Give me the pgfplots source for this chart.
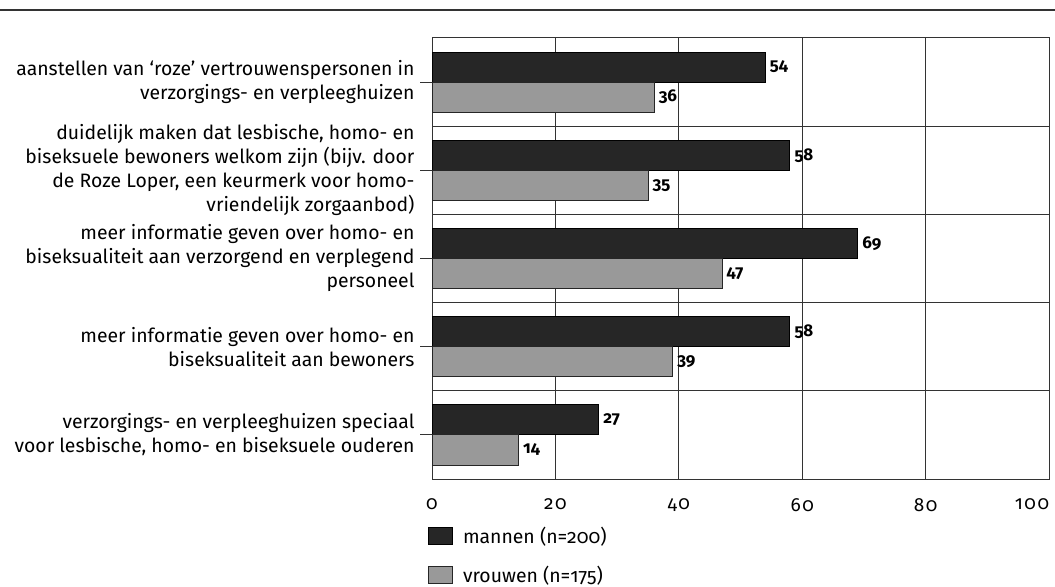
\documentclass[border=0pt]{standalone}
\usepackage{pgfplots}
\pgfplotsset{compat=1.18}
\usepackage{fontspec}
\setmainfont{Fira Sans}[Numbers=OldStyle]
\newfontfamily\tickfont{Fira Sans}[Numbers=OldStyle, LetterSpace=8]
\definecolor{darkbar}{HTML}{262626}
\definecolor{graybar}{HTML}{999999}
\definecolor{gridc}{HTML}{333333}
\begin{document}
\begin{tikzpicture}[x=1bp,y=1bp,font=\fontsize{19.4bp}{24bp}\selectfont]
\useasboundingbox (0,0) rectangle (1055,587);
\draw[line width=1.2bp, gridc] (0,577) -- (1055,577);
\begin{axis}[
  at={(432bp,108bp)}, anchor=south west,
  scale only axis, width=617bp, height=441bp,
  xbar, bar width=30bp,
  xmin=0, xmax=100, ymin=-0.5, ymax=4.5, y dir=reverse,
  xtick={0,20,...,100}, ytick={0,...,4},
  xticklabels={0,20,40,60,80,\llap{100}},
  minor ytick={0.5,1.5,2.5,3.5},
  xmajorgrids, yminorgrids,
  major grid style={gridc, line width=0.9bp},
  minor grid style={gridc, line width=0.9bp},
  axis line style={gridc, line width=1bp},
  xtick style={draw=none},
  minor tick length=0pt,
  ytick pos=left, tick align=outside, major tick length=12bp,
  ytick style={gridc, line width=0.9bp},
  /pgf/number format/assume math mode=true,
  xticklabel style={font=\fontsize{19bp}{24bp}\tickfont, yshift=-4bp},
  yticklabels={
    {aanstellen van ‘roze’ vertrouwenspersonen in\\verzorgings- en verpleeghuizen},
    {duidelijk maken dat lesbische, homo- en\\biseksuele bewoners welkom zijn (bijv. door\\de Roze Loper, een keurmerk voor homo-\\vriendelijk zorgaanbod)},
    {meer informatie geven over homo- en\\biseksualiteit aan verzorgend en verplegend\\personeel},
    {meer informatie geven over homo- en\\biseksualiteit aan bewoners},
    {verzorgings- en verpleeghuizen speciaal\\voor lesbische, homo- en biseksuele ouderen}
  },
  yticklabel style={align=right, font=\fontsize{19.4bp}{24bp}\selectfont, xshift=-2bp},
  nodes near coords,
  every node near coord/.append style={font=\fontsize{17bp}{20bp}\selectfont\bfseries, anchor=west, xshift=1bp},
  legend image code/.code={\draw[#1] (0bp,-8.5bp) rectangle (24bp,8.5bp);},
  legend style={at={(0,0)}, anchor=north west, xshift=-4bp, yshift=-46bp, draw=none, fill=none,
    row sep=17bp, font=\fontsize{19.4bp}{24bp}\selectfont, inner sep=0pt,
    nodes={inner sep=2bp, anchor=west},
    /tikz/every odd column/.append style={column sep=8bp}},
  legend cell align=left,
]
\addplot[fill=darkbar, draw=black, line width=0.8bp, bar shift=15bp] coordinates {(54,0) (58,1) (69,2) (58,3) (27,4)};
\addplot[fill=graybar, draw=black!85, line width=0.8bp, bar shift=-15bp] coordinates {(36,0) (35,1) (47,2) (39,3) (14,4)};
\legend{mannen (n=200), vrouwen (n=175)}
\end{axis}
\end{tikzpicture}
\end{document}
